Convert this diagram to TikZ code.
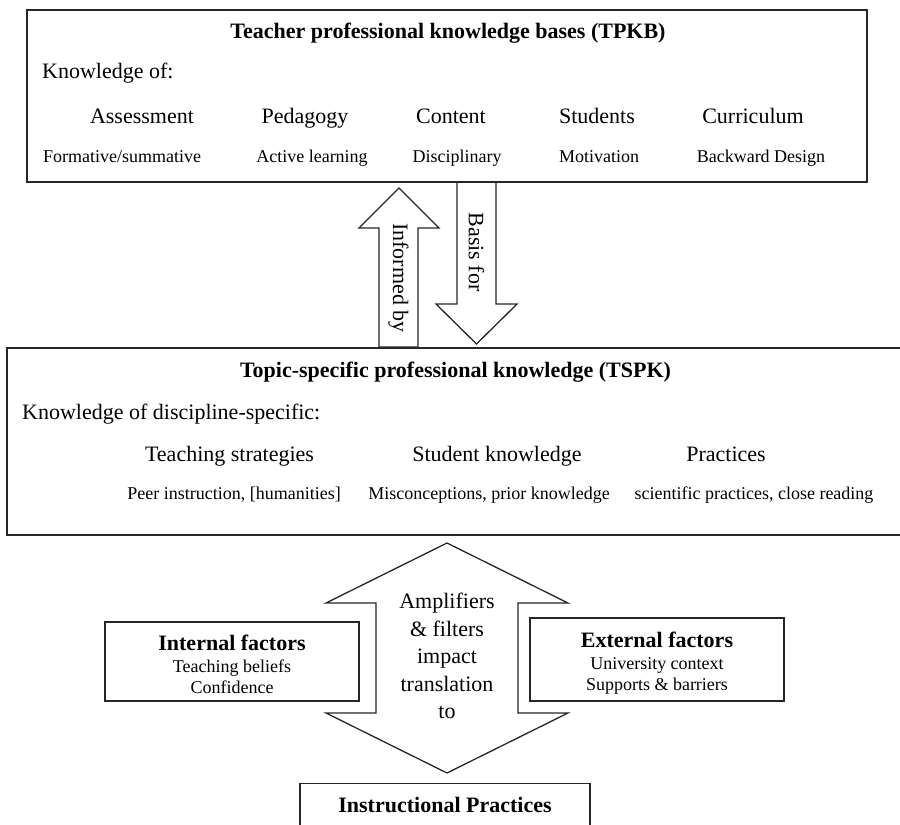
\documentclass[tikz,border=0pt]{standalone}
\usepackage{fontspec}
\setmainfont{Liberation Serif}
\usepackage{tikz}

\begin{document}
\begin{tikzpicture}[x=1pt,y=-1pt,
	box/.style={draw=black!85,line width=1.3pt},
	blockarrow/.style={draw=black!85,line width=1.3pt,line join=miter},
	big/.style={font=\fontsize{22}{27.5}\selectfont,inner sep=0pt,anchor=base},
	small/.style={font=\fontsize{18}{21.5}\selectfont,inner sep=0pt,anchor=base},
	heading/.style={font=\fontsize{22}{27.5}\selectfont\bfseries,inner sep=0pt,anchor=base},
	factor/.style={font=\fontsize{18}{21.5}\selectfont,inner sep=0pt,anchor=north,align=center}]
	\useasboundingbox (0,0) rectangle (900,825);
	\clip (0,0) rectangle (900,825);
	% the two knowledge boxes
	\node[box,minimum width=840pt,minimum height=172pt] (tpkb) at (447,96) {};
	\node[box,minimum width=903pt,minimum height=187pt] (tspk) at (458.5,441.5) {};
	%% teacher professional knowledge bases
	\node[heading] (tpkbtitle) at (448,38) {Teacher professional knowledge bases (TPKB)};
	\node[big,anchor=base west] (tpkbof) at (42,78) {Knowledge of:};
	\node[big] (assess) at (142,123) {Assessment};
	\node[big] (pedag) at (305,123) {Pedagogy};
	\node[big] (content) at (451,123) {Content};
	\node[big] (students) at (597,123) {Students};
	\node[big] (curric) at (753,123) {Curriculum};
	\node[small] (formsum) at (122,162) {Formative/summative};
	\node[small] (active) at (312,162) {Active learning};
	\node[small] (discip) at (457,162) {Disciplinary};
	\node[small] (motiv) at (599,162) {Motivation};
	\node[small] (backward) at (761,162) {Backward Design};
	%% topic-specific professional knowledge
	\node[heading] (tspktitle) at (455.5,377) {Topic-specific professional knowledge (TSPK)};
	\node[big,anchor=base west] (tspkof) at (22,419) {Knowledge of discipline-specific:};
	\node[big] (strat) at (229.5,461) {Teaching strategies};
	\node[big] (stuknow) at (497,461) {Student knowledge};
	\node[big] (pract) at (726,461) {Practices};
	\node[small] (peer) at (234,499) {Peer instruction, [humanities]};
	\node[small] (miscon) at (489,499) {Misconceptions, prior knowledge};
	\node[small] (scipract) at (754,499) {scientific practices, close reading};
	% block arrows between the boxes
	\draw[blockarrow] (379,347) -- (379,228) -- (359,228) -- (399,188) -- (439,228)
		-- (418,228) -- (418,347) -- cycle;
	\draw[blockarrow] (457,182) -- (457,304) -- (436,304) -- (476.5,344) -- (517,304)
		-- (496,304) -- (496,182) -- cycle;
	\node[big,anchor=center,rotate=-90] (informed) at (398.5,278) {Informed by};
	\node[big,anchor=center,rotate=-90] (basis) at (476.5,252) {Basis for};
	% double arrow with the factors
	\draw[blockarrow] (447,543) -- (568,603) -- (518,603) -- (518,713) -- (568,713)
		-- (447,773) -- (326,713) -- (376,713) -- (376,603) -- (326,603) -- cycle;
	\node[factor,font=\fontsize{22}{27.5}\selectfont] (amplif) at (447,593)
		{Amplifiers\\ \& filters\\ impact\\ translation\\ to};
	\node[box,minimum width=254pt,minimum height=79pt] (internal) at (232,661.5) {};
	\node[factor] (internaltxt) at (232,635)
		{{\fontsize{22}{21.5}\selectfont\bfseries Internal factors}\\ Teaching beliefs\\ Confidence};
	\node[box,minimum width=254pt,minimum height=83pt] (external) at (657,659.5) {};
	\node[factor] (externaltxt) at (657,632)
		{{\fontsize{22}{21.5}\selectfont\bfseries External factors}\\ University context\\ Supports \& barriers};
	%% the outcome
	\node[box,minimum width=290pt,minimum height=70pt,anchor=north] (instr) at (445,783) {};
	\node[heading] (instrtxt) at (445,812) {Instructional Practices};
\end{tikzpicture}
\end{document}
